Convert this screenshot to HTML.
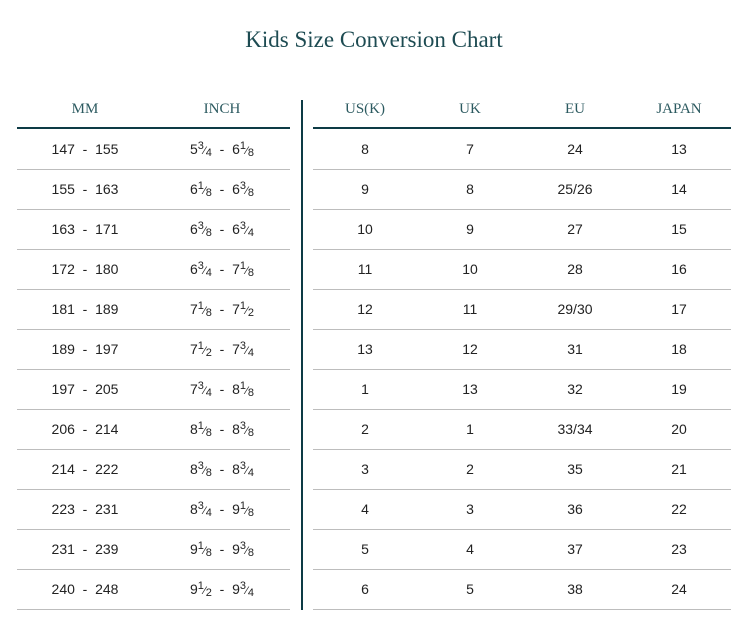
<!DOCTYPE html>
<html><head><meta charset="utf-8"><style>
body{margin:0;width:733px;height:629px;background:#fff;position:relative;font-family:"Liberation Sans",sans-serif;color:#222;overflow:hidden}
.title{position:absolute;left:0;width:748px;top:27px;text-align:center;font-family:"Liberation Serif",serif;font-size:23px;color:#1d4b52}
.hd{position:absolute;top:101px;font-family:"Liberation Serif",serif;font-size:15px;color:#2c5a60;transform:translateX(-50%)}
.rule{position:absolute;top:127px;height:2px;background:#0d3b45}
.vline{position:absolute;left:301px;top:100px;width:2px;height:510px;background:#0d3b45}
.sep{position:absolute;height:1px;background:#bdbdbd}
.cell{position:absolute;font-size:14px;transform:translateX(-50%);white-space:nowrap}
.fr{font-size:11px;position:relative}
.fr .n{position:relative;top:-5px}
.fr .d{position:relative;top:2px}
</style></head><body>
<div class="title">Kids Size Conversion Chart</div>
<div class="hd" style="left:85px">MM</div>
<div class="hd" style="left:222px">INCH</div>
<div class="hd" style="left:365px">US(K)</div>
<div class="hd" style="left:470px">UK</div>
<div class="hd" style="left:575px">EU</div>
<div class="hd" style="left:679px">JAPAN</div>
<div class="rule" style="left:17px;width:273px"></div>
<div class="rule" style="left:313px;width:418px"></div>
<div class="vline"></div>
<div id="rows"></div>
<script>
const mm=["147 - 155","155 - 163","163 - 171","172 - 180","181 - 189","189 - 197","197 - 205","206 - 214","214 - 222","223 - 231","231 - 239","240 - 248"];
const inch=[["5 3/4","6 1/8"],["6 1/8","6 3/8"],["6 3/8","6 3/4"],["6 3/4","7 1/8"],["7 1/8","7 1/2"],["7 1/2","7 3/4"],["7 3/4","8 1/8"],["8 1/8","8 3/8"],["8 3/8","8 3/4"],["8 3/4","9 1/8"],["9 1/8","9 3/8"],["9 1/2","9 3/4"]];
const us=["8","9","10","11","12","13","1","2","3","4","5","6"];
const uk=["7","8","9","10","11","12","13","1","2","3","4","5"];
const eu=["24","25/26","27","28","29/30","31","32","33/34","35","36","37","38"];
const jp=["13","14","15","16","17","18","19","20","21","22","23","24"];
const root=document.getElementById('rows');
function frac(s){const [w,f]=s.split(' ');const [n,d]=f.split('/');return w+'<span class="fr"><span class="n">'+n+'</span>⁄<span class="d">'+d+'</span></span>';}
function cell(x,y,html,name){const e=document.createElement('div');e.className='cell';e.style.left=x+'px';e.style.top=y+'px';e.innerHTML=html;


root.appendChild(e);}
for(let i=0;i<mm.length;i++){
 const y=141+i*40;
 cell(85,y,mm[i].replace(/ - /,'&nbsp; - &nbsp;'),'mm-cell');
 cell(222,y,frac(inch[i][0])+' &nbsp;-&nbsp; '+frac(inch[i][1]),'inch-cell');
 cell(365,y,us[i],'us-cell');
 cell(470,y,uk[i],'uk-cell');
 cell(575,y,eu[i],'eu-cell');
 cell(679,y,jp[i],'japan-cell');
 const sy=169+i*40;
 for(const [l,w] of [[17,273],[313,418]]){const s=document.createElement('div');s.className='sep';s.style.left=l+'px';s.style.width=w+'px';s.style.top=sy+'px';
 
 
 root.appendChild(s);}
}
</script>
</body></html>
